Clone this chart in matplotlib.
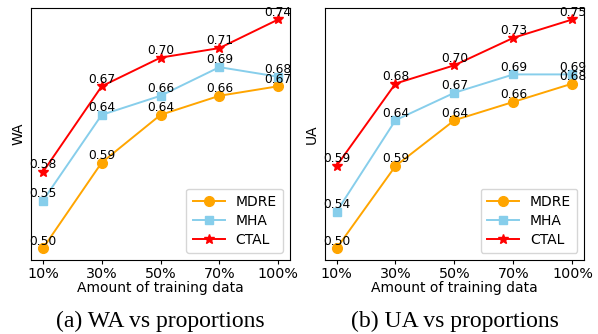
import matplotlib
matplotlib.use("Agg")
import matplotlib.pyplot as plt

proportions = ["10%", "30%", "50%", "70%", "100%"]
methods = ["MDRE", "MHA", "CTAL"]

wa_mdre = [0.50, 0.59, 0.64, 0.66, 0.67]
wa_mha = [0.55, 0.64, 0.66, 0.69, 0.68]
wa_ctal = [0.58, 0.67, 0.70, 0.71, 0.74]

ua_mdre = [0.50, 0.59, 0.64, 0.66, 0.68]
ua_mha = [0.54, 0.64, 0.67, 0.69, 0.69]
ua_ctal = [0.59, 0.68, 0.70, 0.73, 0.75]

colors = ["orange", "skyblue", "red"]
markers = ["o", "s", "*"]
msizes = [7, 6.2, 7.5]

fig = plt.figure(figsize=(5.98, 3.34), dpi=100)
ax1 = fig.add_axes([0.052, 0.222, 0.433, 0.754])
ax2 = fig.add_axes([0.543, 0.222, 0.434, 0.754])

panels = [
    (ax1, [wa_mdre, wa_mha, wa_ctal], "WA", "(a) WA vs proportions"),
    (ax2, [ua_mdre, ua_mha, ua_ctal], "UA", "(b) UA vs proportions"),
]

x = list(range(len(proportions)))
for ax, series, ylab, cap in panels:
    for name, vals, c, m, ms in zip(methods, series, colors, markers, msizes):
        ax.plot(x, vals, color=c, marker=m, markersize=ms, linewidth=1.4, label=name)
        for xi, v in zip(x, vals):
            ax.annotate(f"{v:.2f}", (xi, v), xytext=(0, 0.5), textcoords="offset points",
                        ha="center", va="bottom", fontsize=8.8)
    ax.set_xticks(x)
    ax.set_xticklabels(proportions, fontsize=10.3)
    ax.set_yticks([])
    ax.set_ylabel(ylab, fontsize=10, labelpad=4)
    ax.set_xlabel("Amount of training data", fontsize=10, labelpad=0)
    ax.legend(loc="lower right", fontsize=10, handlelength=2.3, borderpad=0.45,
              labelspacing=0.35)
    ax.tick_params(axis="x", pad=2, length=3)
    pos = ax.get_position()
    fig.text((pos.x0 + pos.x1) / 2, 0.022, cap, ha="center", va="baseline",
             fontsize=17, family="Liberation Serif")

fig.savefig("out.png", dpi=100)
